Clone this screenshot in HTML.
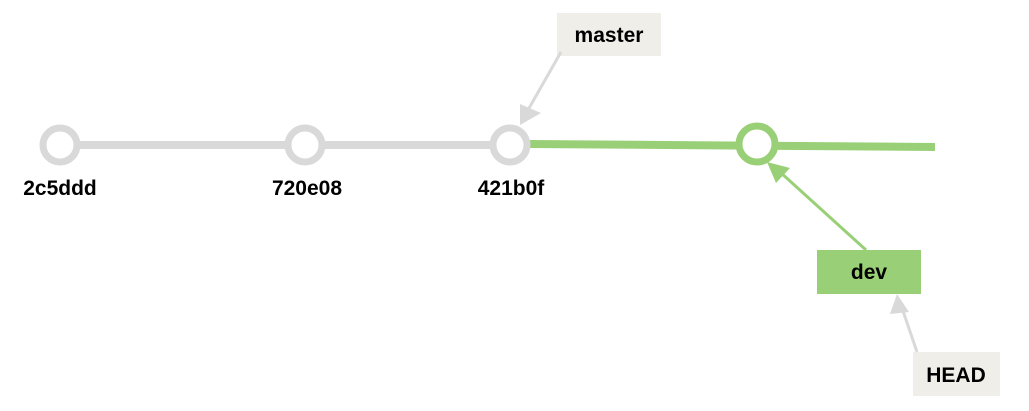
<!DOCTYPE html>
<html><head><style>
html,body{margin:0;padding:0;background:#fff;}
svg text{font-family:"Liberation Sans",Arial,sans-serif;font-weight:bold;font-size:21px;fill:#000;}
</style></head><body>
<svg width="1029" height="406" viewBox="0 0 1029 406">
<line x1="60" y1="145" x2="510" y2="145" stroke="#d9d9d9" stroke-width="8"/>
<line x1="528" y1="144" x2="935" y2="147" stroke="#99d077" stroke-width="8"/>
<circle cx="60" cy="145" r="17" fill="#fff" stroke="#d9d9d9" stroke-width="7"/>
<circle cx="305" cy="145" r="17" fill="#fff" stroke="#d9d9d9" stroke-width="7"/>
<circle cx="510" cy="145" r="17" fill="#fff" stroke="#d9d9d9" stroke-width="7"/>
<circle cx="757" cy="144" r="18" fill="#fff" stroke="#99d077" stroke-width="7"/>
<text x="60" y="195" text-anchor="middle">2c5ddd</text>
<text x="307" y="195" text-anchor="middle">720e08</text>
<text x="511" y="195" text-anchor="middle">421b0f</text>
<rect x="557" y="13" width="104" height="43" fill="#efeee8"/>
<text x="609" y="42" text-anchor="middle">master</text>
<line x1="561" y1="52" x2="528" y2="110" stroke="#d9d9d9" stroke-width="3"/>
<polygon points="520,125 520,104 541,113" fill="#d9d9d9"/>
<rect x="817" y="250" width="104" height="44" fill="#99d077"/>
<text x="869" y="279" text-anchor="middle">dev</text>
<line x1="866" y1="250" x2="780" y2="172" stroke="#99d077" stroke-width="3"/>
<polygon points="767,162 790,168 776,183" fill="#99d077"/>
<rect x="913" y="352" width="87" height="44" fill="#efeee8"/>
<text x="956" y="382" text-anchor="middle">HEAD</text>
<line x1="917" y1="352" x2="902" y2="308" stroke="#d9d9d9" stroke-width="3"/>
<polygon points="897,294 909,312 890,314" fill="#d9d9d9"/>
</svg>
</body></html>
